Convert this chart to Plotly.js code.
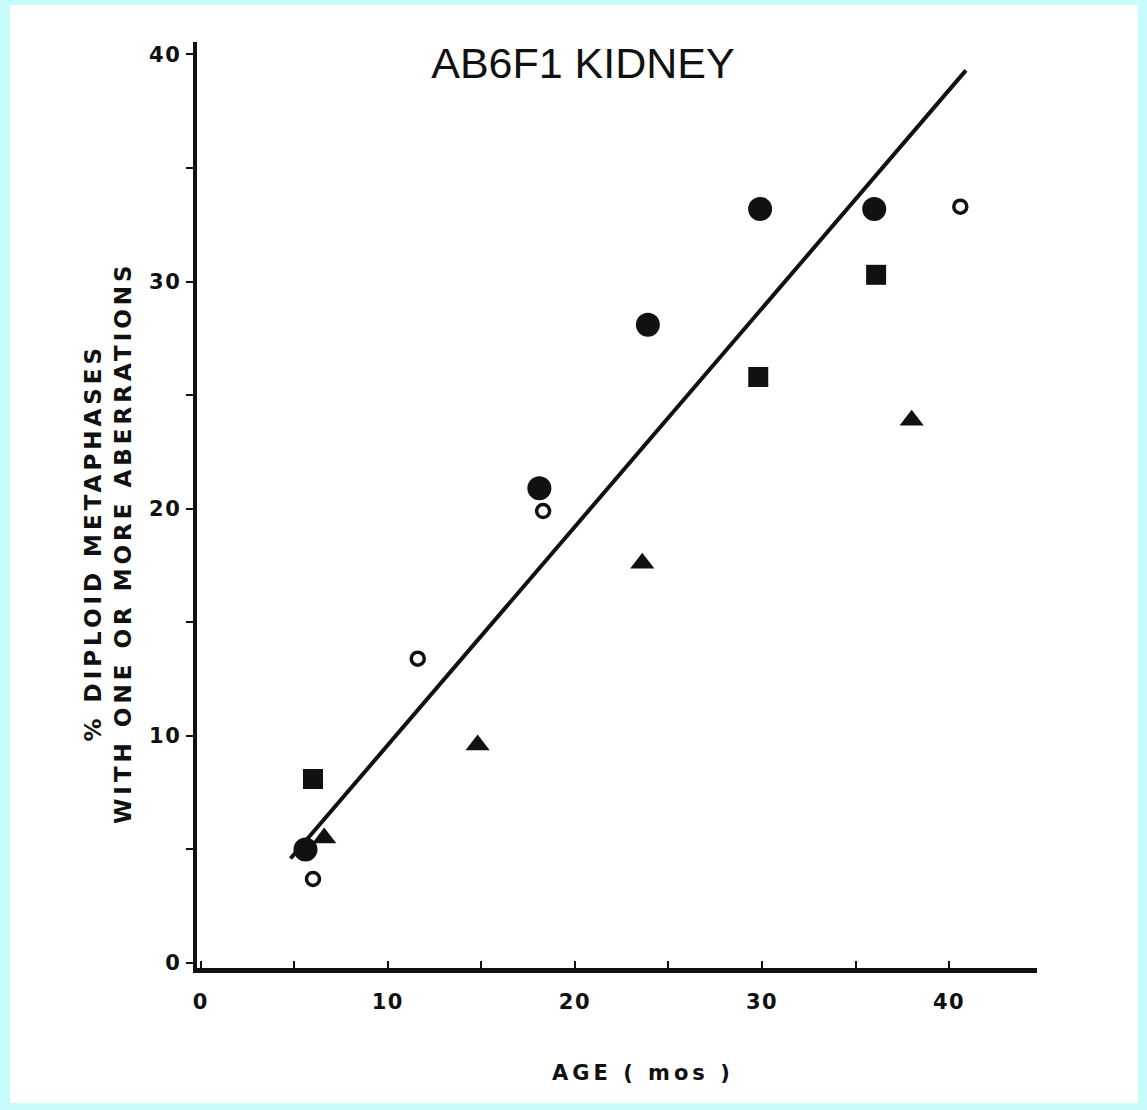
<!DOCTYPE html>
<html>
<head>
<meta charset="utf-8">
<script src="https://cdn.plot.ly/plotly-3.0.1.min.js"></script>
<style>
html,body{margin:0;padding:0;background:#c8fcfc;}
#chart{width:1147px;height:1110px;}
#chart .annotation-text{letter-spacing:4px;}
#chart .annotation:first-of-type .annotation-text{letter-spacing:5.5px;}
#chart .xtick text, #chart .ytick text{letter-spacing:1.5px;}
</style>
</head>
<body>
<div id="chart"></div>
<script>
// Data
const filledCircleX = [5.6, 18.1, 23.9, 29.9, 36.0];
const filledCircleY = [5.0, 20.9, 28.1, 33.2, 33.2];
const openCircleX = [6.0, 11.6, 18.3, 40.6];
const openCircleY = [3.7, 13.4, 19.9, 33.3];
const squareX = [6.0, 29.8, 36.1];
const squareY = [8.1, 25.8, 30.3];
const triangleX = [6.6, 14.8, 23.6, 38.0];
const triangleY = [5.5, 9.6, 17.6, 23.9];
const fitX = [4.8, 40.9];
const fitY = [4.6, 39.3];
const xTickVals = [0, 5, 10, 15, 20, 25, 30, 35, 40];
const xTickText = ['0', '', '10', '', '20', '', '30', '', '40'];
const yTickVals = [0, 5, 10, 15, 20, 25, 30, 35, 40];
const yTickText = ['0', '', '10', '', '20', '', '30', '', '40'];
const titleText = 'AB6F1 KIDNEY';
const xTitleText = 'AGE ( mos )';
const yTitleText = '% DIPLOID METAPHASES<br>WITH ONE OR MORE ABERRATIONS';

const ink = '#111111';
const labelFont = 'DejaVu Sans, Verdana, sans-serif';
const traces = [
  {x: fitX, y: fitY, mode: 'lines', line: {color: ink, width: 4}, hoverinfo: 'skip'},
  {x: filledCircleX, y: filledCircleY, mode: 'markers', marker: {symbol: 'circle', size: 24, color: ink}},
  {x: openCircleX, y: openCircleY, mode: 'markers', marker: {symbol: 'circle-open', size: 13, color: ink, line: {width: 3.5, color: ink}}},
  {x: squareX, y: squareY, mode: 'markers', marker: {symbol: 'square', size: 20, color: ink}},
  {x: triangleX, y: triangleY, mode: 'markers', marker: {symbol: 'triangle-up', size: 21, color: ink}}
];

const layout = {
  width: 1147, height: 1110,
  margin: {l: 197, r: 110, t: 42, b: 142},
  paper_bgcolor: '#c8fcfc',
  plot_bgcolor: 'rgba(0,0,0,0)',
  showlegend: false,
  font: {family: 'Liberation Sans, Arial, sans-serif', color: ink},
  title: {text: titleText, font: {size: 43, color: ink}, x: 0.4595, xref: 'paper', xanchor: 'center', y: 0.943, yanchor: 'middle'},
  xaxis: {
    range: [-0.2, 44.7], tickvals: xTickVals, ticktext: xTickText,
    ticks: 'inside', ticklen: 7, tickwidth: 2, tickcolor: ink,
    showline: true, linewidth: 4.5, linecolor: ink, showgrid: false, zeroline: false,
    tickfont: {size: 21, color: ink, family: labelFont, weight: 'bold'}, ticklabelstandoff: 11
  },
  yaxis: {
    range: [-0.22, 40.55], tickvals: yTickVals, ticktext: yTickText,
    ticks: 'outside', ticklen: 7, tickwidth: 2, tickcolor: ink,
    showline: true, linewidth: 4.5, linecolor: ink, showgrid: false, zeroline: false,
    tickfont: {size: 21, color: ink, family: labelFont, weight: 'bold'}
  },
  annotations: [
    {text: yTitleText, xref: 'paper', yref: 'paper', x: -0.106, y: 0.46, xanchor: 'center', yanchor: 'middle',
     textangle: -90, showarrow: false, font: {size: 23, color: ink, family: labelFont, weight: 'bold'}},
    {text: xTitleText, xref: 'paper', yref: 'paper', x: 0.531, y: -0.113, xanchor: 'center', yanchor: 'middle',
     showarrow: false, font: {size: 21, color: ink, family: labelFont, weight: 'bold'}}
  ],
  shapes: [
    {type: 'rect', xref: 'paper', yref: 'paper', x0: -0.2226, x1: 1.1202, y0: -0.1458, y1: 1.04,
     fillcolor: '#ffffff', line: {width: 0}, layer: 'below'}
  ]
};

Plotly.newPlot('chart', traces, layout, {displayModeBar: false, staticPlot: true});
</script>
</body>
</html>
